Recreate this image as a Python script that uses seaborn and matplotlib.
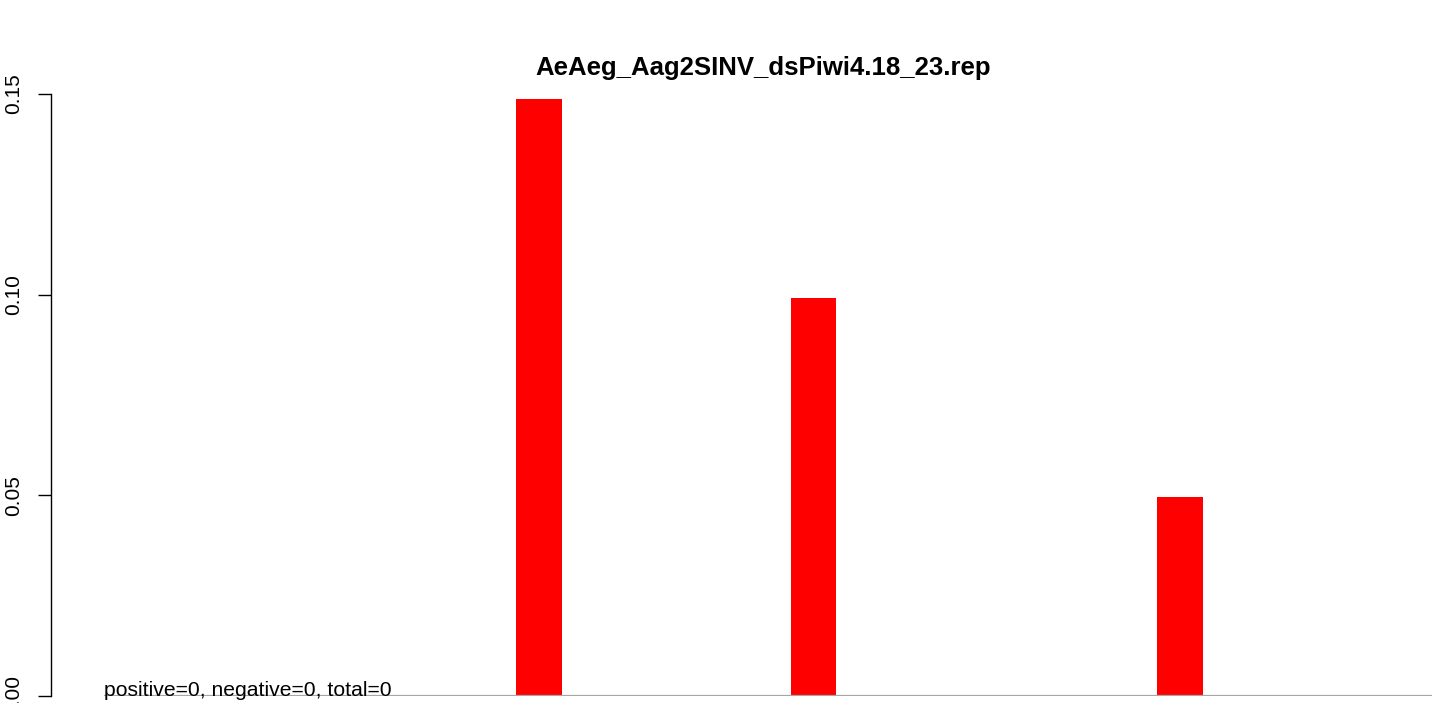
import matplotlib
matplotlib.use("Agg")
import matplotlib.pyplot as plt
import numpy as np
import seaborn as sns

# bins 0..28, unit width, three non-empty bins
bin_left = np.arange(29)
bin_value = np.zeros(29)
bin_value[9] = 0.1488
bin_value[15] = 0.0992
bin_value[23] = 0.0496

y_ticks = [0.00, 0.05, 0.10, 0.15]
y_tick_labels = ["0.00", "0.05", "0.10", "0.15"]
title = "AeAeg_Aag2SINV_dsPiwi4.18_23.rep"
note = "positive=0, negative=0, total=0"

sns.set_theme(style="white")
plt.rcParams["font.family"] = ["Liberation Sans", "DejaVu Sans"]
plt.rcParams["text.color"] = "black"

W, H = 1439, 703
fig = plt.figure(figsize=(W / 100, H / 100), dpi=100)
ax_left, ax_right, ax_bottom, ax_top = 50.5, 1485, 696, 94
ax = fig.add_axes([ax_left / W, (H - ax_bottom) / H,
                   (ax_right - ax_left) / W, (ax_bottom - ax_top) / H])

sns.barplot(x=bin_left + 0.5, y=bin_value, native_scale=True, width=1,
            color="#FF0000", saturation=1, linewidth=0, errorbar=None, ax=ax)

span = bin_left[-1] + 1
ax.hlines(0, 0, span, color="#A6A6A6", linewidth=1.6, zorder=3)
ax.text(0, 0, note, ha="left", va="baseline", fontsize=15.2, color="black",
        zorder=4, clip_on=False)

ax.set_xlim(-0.04 * span, 1.04 * span)
ax.set_ylim(0, 0.15)
ax.set_xticks([])
ax.set_yticks(y_ticks)
ax.set_yticklabels(y_tick_labels, rotation=90, va="center", fontsize=15)
ax.tick_params(axis="y", left=True, length=9.4, width=1.0, pad=10.5, colors="black")
ax.set_xlabel("")
ax.set_ylabel("")
for s in ["top", "right", "bottom"]:
    ax.spines[s].set_visible(False)
ax.spines["left"].set_bounds(0, 0.15)
ax.spines["left"].set_color("black")
ax.spines["left"].set_linewidth(1.0)
ax.patch.set_alpha(0)

ax.set_title(title, fontsize=18.5, fontweight="bold", color="black", pad=14, x=0.4965)

fig.savefig("out.png", dpi=100)
